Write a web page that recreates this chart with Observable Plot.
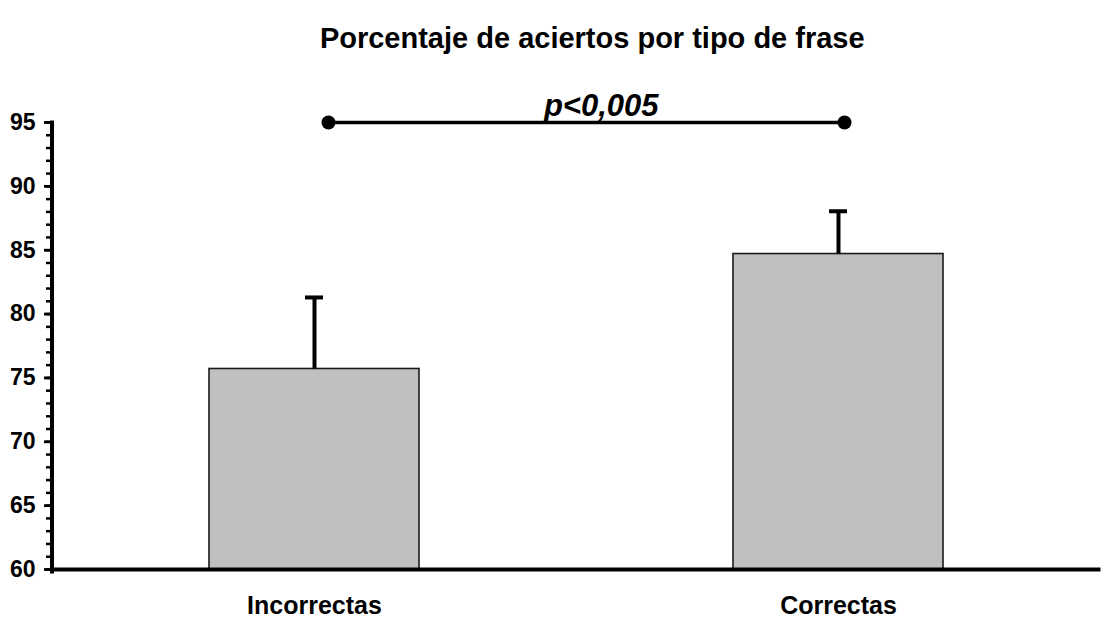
<!DOCTYPE html>
<html>
<head>
<meta charset="utf-8">
<script src="https://cdn.jsdelivr.net/npm/d3@7"></script>
<script src="https://cdn.jsdelivr.net/npm/@observablehq/plot@0.6"></script>
<style>
  html, body { margin: 0; padding: 0; background: #fff; }
  svg { display: block; }
</style>
</head>
<body>
<div id="chart"></div>
<script>
const categories = ["Incorrectas", "Correctas"];
const means = [75.7, 84.7];
const errors = [5.6, 3.35];
const majorTicks = [60, 65, 70, 75, 80, 85, 90, 95];
const minorTicks = d3.range(60, 96, 1);
const title = "Porcentaje de aciertos por tipo de frase";
const pLabel = "p<0,005";
const sigLevel = 95;

const data = categories.map((c, i) => ({cat: c, mean: means[i], top: means[i] + errors[i]}));

const font = "'Liberation Sans', Arial, Helvetica, sans-serif";
const W = 1101, H = 621;
const mL = 51.5, mR = 3, mT = 122, mB = 52;

const chart = Plot.plot({
  width: W,
  height: H,
  marginLeft: mL,
  marginRight: mR,
  marginTop: mT,
  marginBottom: mB,
  style: {fontFamily: font, background: "#fff", color: "#000", overflow: "visible"},
  x: {domain: categories, range: [209, 943], paddingInner: 0.6, paddingOuter: 0, label: null},
  y: {domain: [60, 95], label: null},
  marks: [
    Plot.barY(data, {x: "cat", y1: 60, y2: "mean", fill: "#c0c0c0", stroke: "#1a1a1a", strokeWidth: 1.6}),
    Plot.ruleX(data, {x: "cat", y1: "mean", y2: "top", stroke: "#000", strokeWidth: 4}),
    Plot.tickY(data, {x: "cat", y: "top", stroke: "#000", strokeWidth: 4, insetLeft: 96, insetRight: 96}),
    // significance bar
    Plot.ruleY([sigLevel], {stroke: "#000", strokeWidth: 3.5, insetLeft: 276, insetRight: 1101 - mR - 844.5}),
    Plot.dot([{cat: "Incorrectas", y: sigLevel}], {x: "cat", y: "y", r: 7, fill: "#000", dx: 14}),
    Plot.dot([{cat: "Correctas", y: sigLevel}], {x: "cat", y: "y", r: 7, fill: "#000", dx: 6}),
    Plot.text([pLabel], {frameAnchor: "top", lineAnchor: "middle", dx: 26, dy: -16, fontSize: 31, fontWeight: "bold", fontStyle: "italic", fill: "#000"}),
    // title
    Plot.text([title], {frameAnchor: "top", lineAnchor: "middle", dx: 17, dy: -84, fontSize: 29, fontWeight: "bold", fill: "#000"}),
    // axes
    Plot.axisY({ticks: minorTicks, tickSize: 5.5, text: null, strokeWidth: 2.5, stroke: "#000"}),
    Plot.axisY({ticks: majorTicks, tickSize: 7.5, tickPadding: 9, strokeWidth: 2.8, stroke: "#000",
      fontSize: 23, fontWeight: "bold", fill: "#000", tickFormat: d => String(d)}),
    Plot.axisX({tickSize: 0, tickPadding: 27, fontSize: 25, fontWeight: "bold", fill: "#000", label: null}),
    Plot.frame({anchor: "left", stroke: "#000", strokeWidth: 4, insetBottom: -2}),
    Plot.frame({anchor: "bottom", stroke: "#000", strokeWidth: 4})
  ]
});

document.getElementById("chart").appendChild(chart);
</script>
</body>
</html>
